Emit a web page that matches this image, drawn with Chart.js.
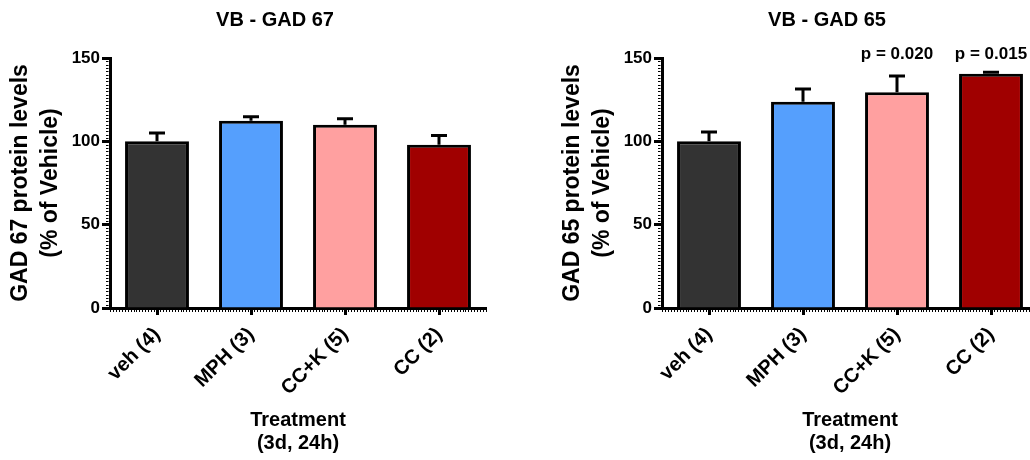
<!DOCTYPE html>
<html>
<head>
<meta charset="utf-8">
<script src="https://cdn.jsdelivr.net/npm/chart.js@4"></script>
<style>
  html, body { margin: 0; padding: 0; background: #fff; overflow: hidden; }
  #wrap { position: relative; width: 1030px; height: 460px; overflow: hidden; }
  #wrap canvas { position: absolute; top: 0; }
  #gad67 { left: 0; }
  #gad65 { left: 552px; }
</style>
</head>
<body>
<div id="wrap">
  <canvas id="gad67" width="515" height="460"></canvas>
  <canvas id="gad65" width="515" height="460"></canvas>
</div>
<script>
const categories = ['veh (4)', 'MPH (3)', 'CC+K (5)', 'CC (2)'];
const barColors = ['#333333', '#559ffd', '#ffa0a0', '#a00000'];

const gad67Means = [100, 112.3, 110, 98];
const gad67Sem = [5, 2.5, 3.6, 5.5];
const gad67PValues = ['', '', '', ''];

const gad65Means = [100, 123.8, 129.4, 140.5];
const gad65Sem = [5.6, 7.6, 9.8, 1];
const gad65PValues = ['', '', 'p = 0.020', 'p = 0.015'];

const yMin = 0;
const yMax = 150;
const yStep = 50;

Chart.defaults.font.family = "'Liberation Sans', Arial, sans-serif";
Chart.defaults.color = '#000';

// error bars (upper half only), p values, title and the small minor ticks
const decorations = {
  id: 'decorations',
  afterDatasetsDraw(chart, args, opts) {
    const { ctx, chartArea } = chart;
    const meta = chart.getDatasetMeta(0);
    const y = chart.scales.y;
    ctx.save();
    ctx.strokeStyle = '#000';
    ctx.lineWidth = 3;
    meta.data.forEach((bar, i) => {
      const top = y.getPixelForValue(opts.means[i] + opts.sem[i]);
      ctx.beginPath();
      ctx.moveTo(bar.x, bar.y);
      ctx.lineTo(bar.x, top);
      ctx.moveTo(bar.x - 8, top);
      ctx.lineTo(bar.x + 8, top);
      ctx.stroke();
    });

    ctx.fillStyle = '#000';
    ctx.font = "bold 17px 'Liberation Sans', Arial, sans-serif";
    ctx.textAlign = 'center';
    ctx.textBaseline = 'alphabetic';
    meta.data.forEach((bar, i) => {
      if (opts.pValues[i]) ctx.fillText(opts.pValues[i], bar.x, chartArea.top + 1);
    });

    ctx.font = "bold 20px 'Liberation Sans', Arial, sans-serif";
    ctx.textBaseline = 'middle';
    ctx.fillText(opts.title, 275, 20);
    ctx.restore();
  },
  afterDraw(chart) {
    const { ctx } = chart;
    const x = chart.scales.x;
    const y = chart.scales.y;
    ctx.save();
    ctx.strokeStyle = '#000';
    ctx.lineWidth = 1;
    ctx.beginPath();
    for (let v = yMin; v <= yMax; v += 2) {
      const py = Math.round(y.getPixelForValue(v)) + 0.5;
      ctx.moveTo(x.left - 4, py);
      ctx.lineTo(x.left - 1.5, py);
    }
    for (let v = -0.5; v <= categories.length - 0.5; v += 1 / 32) {
      const px = Math.round(x.getPixelForValue(v)) + 0.5;
      ctx.moveTo(px, y.bottom + 1.5);
      ctx.lineTo(px, y.bottom + 4);
    }
    ctx.stroke();
    ctx.restore();
  }
};

function makeChart(id, title, yTitle, means, sem, pValues) {
  return new Chart(document.getElementById(id), {
    type: 'bar',
    data: {
      labels: categories,
      datasets: [{
        data: means,
        backgroundColor: barColors,
        borderColor: '#000',
        borderWidth: 3,
        barPercentage: 0.68,
        categoryPercentage: 1
      }]
    },
    options: {
      responsive: false,
      animation: false,
      layout: { padding: { top: 58, right: 29, left: 0, bottom: 0 } },
      plugins: {
        legend: { display: false },
        tooltip: { enabled: false },
        title: { display: false },
        decorations: { title: title, means: means, sem: sem, pValues: pValues }
      },
      scales: {
        x: {
          grid: { drawOnChartArea: false, offset: false, tickLength: 7, tickWidth: 3, tickColor: '#000' },
          border: { width: 3, color: '#000' },
          ticks: {
            minRotation: 45, maxRotation: 45, autoSkip: false, padding: 8,
            color: '#000', font: { size: 20, weight: 'bold' }
          },
          title: {
            display: true,
            text: ['Treatment', '(3d, 24h)'],
            color: '#000',
            font: { size: 20, weight: 'bold', lineHeight: 1.15 },
            padding: { top: 0, bottom: 5.5 }
          },
          afterFit(scale) { scale.height = 152; }
        },
        y: {
          min: yMin,
          max: yMax,
          ticks: { stepSize: yStep, padding: 2, color: '#000', font: { size: 17, weight: 'bold' } },
          grid: { drawOnChartArea: false, tickLength: 8, tickWidth: 3, tickColor: '#000' },
          border: { width: 3, color: '#000' },
          title: {
            display: true,
            text: [yTitle, '(% of Vehicle)'],
            color: '#000',
            font: { size: 23, weight: 'bold', lineHeight: 1.3 },
            padding: { top: 6, bottom: 0 }
          },
          afterFit(scale) { scale.width = 110; }
        }
      }
    },
    plugins: [decorations]
  });
}

makeChart('gad67', 'VB - GAD 67', 'GAD 67 protein levels', gad67Means, gad67Sem, gad67PValues);
makeChart('gad65', 'VB - GAD 65', 'GAD 65 protein levels', gad65Means, gad65Sem, gad65PValues);
</script>
</body>
</html>
